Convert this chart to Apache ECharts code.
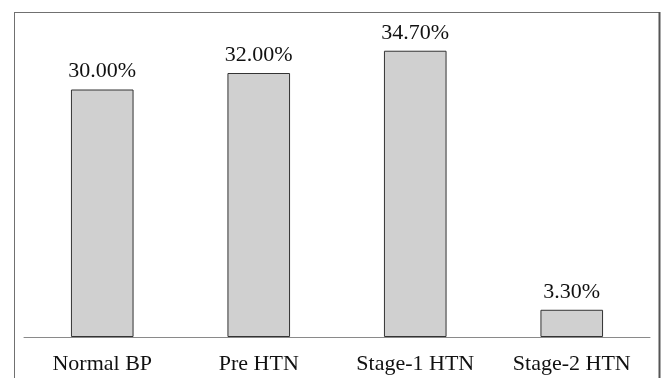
<!DOCTYPE html>
<html><head><meta charset="utf-8">
<script src="https://cdn.jsdelivr.net/npm/echarts@6/dist/echarts.min.js"></script>
<style>html,body{margin:0;padding:0;background:#fff}#c{width:665px;height:378px}</style>
</head><body><div id="c"></div>
<script>
var categories = ['Normal BP', 'Pre HTN', 'Stage-1 HTN', 'Stage-2 HTN'];
var values = [30.00, 32.00, 34.70, 3.30];

var chart = echarts.init(document.getElementById('c'));
chart.setOption({
  animation: false,
  grid: {left: 24, right: 15, top: 7, bottom: 41},
  xAxis: {
    type: 'category', data: categories,
    axisLine: {lineStyle: {color: '#8a8a8a', width: 1}},
    axisTick: {show: false},
    axisLabel: {fontFamily: 'Liberation Serif', fontSize: 22, color: '#111', margin: 16}
  },
  yAxis: {type: 'value', min: 0, max: 40, show: false, splitLine: {show: false}},
  series: [{
    type: 'bar', data: values, barWidth: '40%',
    itemStyle: {color: '#d0d0d0', borderColor: '#333', borderWidth: 1},
    label: {show: true, position: 'top', distance: 7, fontFamily: 'Liberation Serif', fontSize: 22, color: '#111',
      formatter: function (p) { return p.value.toFixed(2) + '%'; }}
  }],
  graphic: [
    {type: 'line', shape: {x1: 14, y1: 12.5, x2: 660, y2: 12.5}, style: {stroke: '#707070', lineWidth: 1}, silent: true},
    {type: 'line', shape: {x1: 14.5, y1: 12, x2: 14.5, y2: 378}, style: {stroke: '#707070', lineWidth: 1}, silent: true},
    {type: 'line', shape: {x1: 659.5, y1: 12, x2: 659.5, y2: 378}, style: {stroke: '#555', lineWidth: 2}, silent: true}
  ]
});
</script></body></html>
